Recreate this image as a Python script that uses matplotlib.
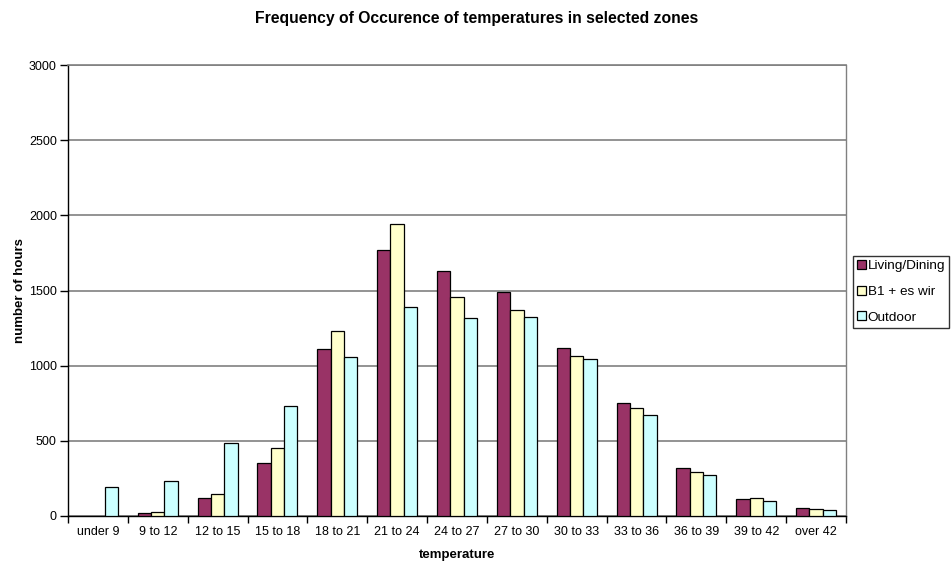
import matplotlib.pyplot as plt
from matplotlib.patches import Patch
import numpy as np

plt.rcParams['font.family'] = ['Liberation Sans', 'DejaVu Sans']

categories = ['under 9', '9 to 12', '12 to 15', '15 to 18', '18 to 21', '21 to 24',
              '24 to 27', '27 to 30', '30 to 33', '33 to 36', '36 to 39', '39 to 42', 'over 42']
living = [0, 22, 122, 353, 1111, 1770, 1632, 1488, 1120, 750, 317, 113, 51]
b1_wir = [0, 27, 146, 452, 1233, 1941, 1455, 1368, 1067, 717, 291, 118, 45]
outdoor = [195, 235, 484, 734, 1056, 1388, 1320, 1322, 1043, 672, 273, 98, 42]
series_names = ['Living/Dining', 'B1 + es wir', 'Outdoor']
colors = ['#993366', '#FFFFCC', '#CCFFFF']
y_ticks = [0, 500, 1000, 1500, 2000, 2500, 3000]

fig = plt.figure(figsize=(9.53, 5.66), dpi=100)
ax = fig.add_axes([68 / 953, 50 / 566, 778 / 953, 451 / 566])

x = np.arange(len(categories))
w = 0.223
for i, (vals, c) in enumerate(zip([living, b1_wir, outdoor], colors)):
    bars = ax.bar(x + (i - 1) * w, vals, width=w, color=c, edgecolor='black',
                  linewidth=0.9, zorder=3)
    # zero-height bars are not drawn in the original
    for b, v in zip(bars, vals):
        if v == 0:
            b.set_visible(False)

ax.set_xlim(-0.5, len(categories) - 0.5)
ax.set_ylim(0, 3000)
ax.set_yticks(y_ticks)
ax.yaxis.grid(True, color='#808080', linewidth=1.2, zorder=0)
ax.set_xticks(x)
ax.set_xticklabels(categories, fontsize=9)
ax.set_xticks(np.arange(len(categories) + 1) - 0.5, minor=True)
ax.tick_params(axis='x', which='major', length=0, pad=7)
ax.tick_params(axis='x', which='minor', length=5, direction='out', width=1)
ax.tick_params(axis='y', labelsize=9, length=6, direction='out', width=1, pad=2)

for s in ['left', 'bottom']:
    ax.spines[s].set_color('black')
    ax.spines[s].set_linewidth(1)
ax.spines['top'].set_color('#808080')
ax.spines['top'].set_linewidth(1.2)
ax.spines['right'].set_color('#808080')
ax.spines['right'].set_linewidth(1)

ax.set_xlabel('temperature', fontsize=9.5, fontweight='bold')
ax.set_ylabel('number of hours', fontsize=9.5, fontweight='bold')
ax.xaxis.set_label_coords(0.5, (516 - 549) / 451)
ax.yaxis.set_label_coords((26 - 68) / 778, 0.5)
fig.text(0.5, 1 - 18 / 566, 'Frequency of Occurence of temperatures in selected zones',
         ha='center', va='center', fontsize=11.3, fontweight='bold')

handles = [Patch(facecolor=c, edgecolor='black', linewidth=0.9) for c in colors]
leg = fig.legend(handles, series_names, loc='upper left',
                 bbox_to_anchor=(853 / 953, 1 - 256 / 566),
                 fontsize=9.7, frameon=True, fancybox=False, edgecolor='black',
                 handlelength=0.65, handleheight=0.65, handletextpad=0.15,
                 borderpad=0.3, labelspacing=1.0, borderaxespad=0)
leg.get_frame().set_linewidth(1)

fig.savefig('out.png', dpi=100)
